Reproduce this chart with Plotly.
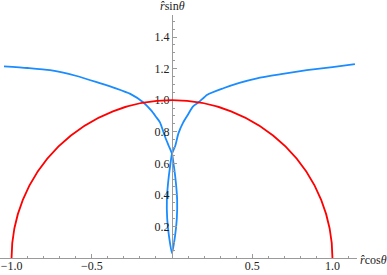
import plotly.graph_objects as go

# ---- data ----
circle_radius = 1.0

blue_x = [-1.047, -0.90, -0.76, -0.60, -0.45, -0.35, -0.26, -0.18, -0.13, -0.10, -0.075, -0.044, -0.02, 0.0,
          0.012, 0.024, 0.032, 0.030, 0.019, 0.0,
          -0.019, -0.030, -0.032, -0.024, -0.012, 0.0,
          0.02, 0.04, 0.07, 0.10, 0.13, 0.17, 0.22, 0.32, 0.42, 0.53, 0.68, 0.84, 1.0, 1.14]
blue_y = [1.215, 1.204, 1.19, 1.155, 1.108, 1.075, 1.04, 0.987, 0.935, 0.895, 0.86, 0.77, 0.71, 0.66,
          0.58, 0.48, 0.37, 0.25, 0.14, 0.03,
          0.14, 0.25, 0.37, 0.48, 0.58, 0.66,
          0.71, 0.79, 0.86, 0.91, 0.96, 0.99, 1.035, 1.076, 1.11, 1.139, 1.165, 1.19, 1.21, 1.228]

x_tickvals = [-1.0, -0.5, 0.5, 1.0]
x_ticktext = ["\u22121.0", "\u22120.5", "0.5", "1.0"]
y_tickvals = [0.2, 0.4, 0.6, 0.8, 1.0, 1.2, 1.4]
y_ticktext = ["0.2", "0.4", "0.6", "0.8", "1.0", "1.2", "1.4"]

x_range = [-1.072, 1.153]
y_range = [0.0, 1.54]

axis_gray = "#9a9a9a"
font = dict(family="Liberation Serif, serif", size=12, color="#222222")

fig = go.Figure()
fig.add_trace(go.Scatter(x=blue_x, y=blue_y, mode="lines",
                         line=dict(color="#1a8cff", width=1.8, shape="spline", smoothing=0.6),
                         showlegend=False, hoverinfo="skip"))

fig.add_shape(type="circle", xref="x", yref="y",
              x0=-circle_radius, y0=-circle_radius, x1=circle_radius, y1=circle_radius,
              line=dict(color="#ff0000", width=1.8), layer="above")

ypos = (0 - x_range[0]) / (x_range[1] - x_range[0])

fig.update_layout(
    template="none",
    width=387, height=275,
    margin=dict(l=0, r=30, t=15, b=17, autoexpand=False),
    paper_bgcolor="white", plot_bgcolor="white",
    font=font,
    xaxis=dict(range=x_range, showgrid=False, zeroline=False, automargin=False,
               showline=True, linecolor=axis_gray, linewidth=1,
               tickvals=x_tickvals, ticktext=x_ticktext,
               ticks="inside", ticklen=4, tickcolor=axis_gray, tickwidth=1,
               ticklabelstandoff=-3,
               minor=dict(tickvals=[v / 10 for v in range(-10, 12) if v % 5 != 0],
                          ticks="inside", ticklen=2, tickcolor=axis_gray),
               tickfont=font, fixedrange=True),
    yaxis=dict(range=y_range, showgrid=False, zeroline=False, automargin=False,
               anchor="free", position=ypos, side="left",
               showline=True, linecolor=axis_gray, linewidth=1,
               tickvals=y_tickvals, ticktext=y_ticktext,
               ticks="inside", ticklen=4, tickcolor=axis_gray, tickwidth=1,
               minor=dict(tickvals=[v / 20 for v in range(1, 31) if v % 4 != 0],
                          ticks="inside", ticklen=2, tickcolor=axis_gray),
               tickfont=font, fixedrange=True),
)

fig.add_annotation(x=0, y=y_range[1], xref="x", yref="y", yshift=0,
                   text="<i>r\u0302</i>sin<i>\u03b8</i>", showarrow=False,
                   yanchor="bottom", xanchor="center", font=font)
fig.add_annotation(x=1.0, y=0, xref="paper", yref="y", xshift=2, yshift=-2,
                   text="<i>r\u0302</i>cos<i>\u03b8</i>", showarrow=False,
                   xanchor="left", yanchor="middle", font=font, borderpad=0)

fig.write_html("out.html", config={"displayModeBar": False},
               post_script="document.body.style.margin='0';document.body.style.overflow='hidden';")
